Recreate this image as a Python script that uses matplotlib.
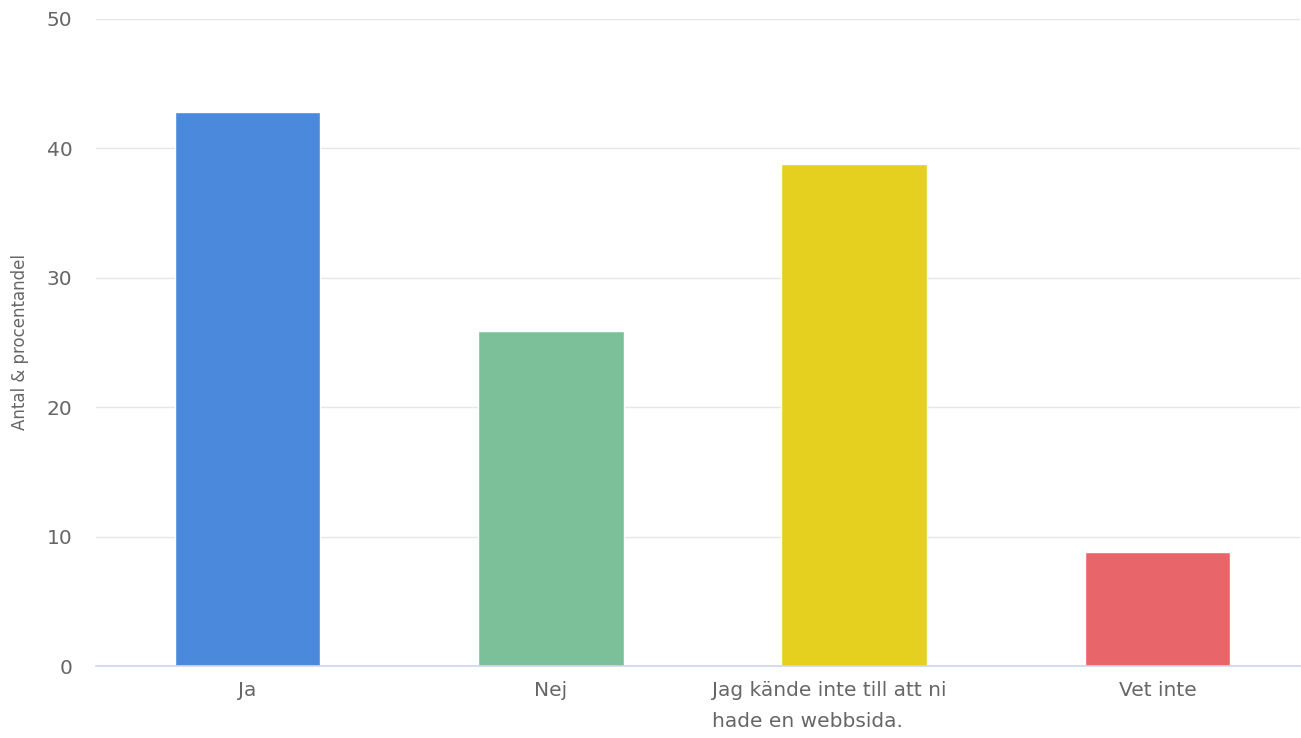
import matplotlib
matplotlib.use("Agg")
import matplotlib.pyplot as plt
import matplotlib.transforms as mtransforms

categories = ["Ja", "Nej", "Jag kände inte till att ni\nhade en webbsida.", "Vet inte"]
values = [42.8, 25.9, 38.8, 8.8]
colors = ["#4a89dc", "#7cc09a", "#e5d020", "#e8666a"]
yticks = [0, 10, 20, 30, 40, 50]

plt.rcParams['font.family'] = ['DejaVu Sans']
fig = plt.figure(figsize=(13.01, 7.38), dpi=100)
ax = fig.add_axes([96/1301, 1 - 666/738, 1204/1301, 647/738])

x = range(len(categories))
ax.bar(x, values, width=0.48, color=colors, edgecolor='white', linewidth=1, zorder=3)

ax.set_xlim(-0.5, 3.47)
ax.set_ylim(0, 50)
ax.set_yticks(yticks)
ax.set_xticks(list(x))
ax.set_xticklabels(categories, multialignment='left', linespacing=1.8)
ax.grid(axis='y', color='#e6e6e6', linewidth=1, zorder=0)
ax.set_axisbelow(True)

for s in ['top', 'right', 'left']:
    ax.spines[s].set_visible(False)
ax.spines['bottom'].set_color('#ccd6eb')
ax.spines['bottom'].set_linewidth(1.2)
ax.spines['bottom'].set_zorder(4)

ax.tick_params(axis='y', length=0, pad=17, labelsize=14.5, labelcolor='#666666')
ax.tick_params(axis='x', length=0, pad=11, labelsize=14.5, labelcolor='#666666')

# the wrapped label sits a bit left of the bar centre in the original
lbl = ax.get_xticklabels()[2]
lbl.set_transform(lbl.get_transform() + mtransforms.ScaledTranslation(-0.25, 0, fig.dpi_scale_trans))

ax.set_ylabel("Antal & procentandel", fontsize=12, color='#666666')
ax.yaxis.set_label_coords(-0.056, 0.5)

plt.savefig("out.png", dpi=100)
plt.close()
